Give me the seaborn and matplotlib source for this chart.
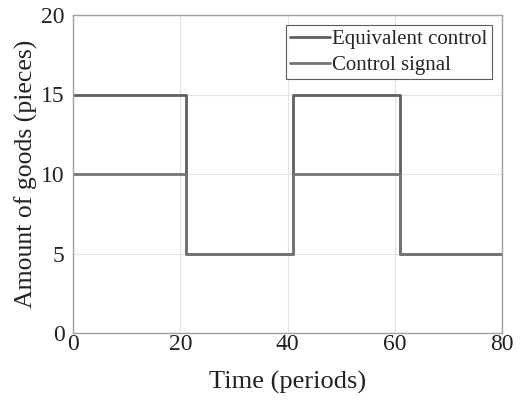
import matplotlib
matplotlib.use("Agg")
import matplotlib.pyplot as plt
import seaborn as sns
import pandas as pd

time = [0, 21, 41, 61, 80]
equivalent_control = [15, 5, 15, 5, 5]
control_signal = [10, 5, 10, 5, 5]
series_names = ["Equivalent control", "Control signal"]
xticks = [0, 20, 40, 60, 80]
yticks = [0, 5, 10, 15, 20]

sns.set_theme(style="whitegrid")
plt.rcParams['font.family'] = ['Liberation Serif', 'DejaVu Serif']
plt.rcParams['mathtext.fontset'] = 'stix'

df = pd.concat([
    pd.DataFrame({"t": time, "v": equivalent_control, "s": series_names[0]}),
    pd.DataFrame({"t": time, "v": control_signal, "s": series_names[1]}),
])

fig = plt.figure(figsize=(5.2, 4.01), dpi=100)
ax = fig.add_axes([73/520, 1-333/401, 429/520, 318/401])
palette = {series_names[0]: "#5f5f5f", series_names[1]: "#747474"}
sns.lineplot(data=df, x="t", y="v", hue="s", palette=palette, ax=ax,
             drawstyle="steps-post", linewidth=2.0, estimator=None)

ax.set_xlim(0, 80)
ax.set_ylim(0, 20)
ax.set_xticks(xticks)
ax.set_yticks(yticks)
ax.tick_params(labelsize=17, direction="in", length=3, color="#999999", labelcolor="#222222")
ax.tick_params(axis="x", pad=1)
ax.tick_params(axis="y", pad=6)
ax.set_xlabel("Time (periods)", fontsize=19, color="#222222", labelpad=11)
ax.set_ylabel("Amount of goods (pieces)", fontsize=18.5, color="#222222", labelpad=2)
ax.grid(True, color="#e3e3e3", linewidth=0.8)
for sp in ax.spines.values():
    sp.set_visible(True)
    sp.set_color("#a0a0a0")
    sp.set_linewidth(1.0)

leg = ax.legend(loc="upper right", fontsize=15, frameon=True, fancybox=False,
                borderpad=0.2, handlelength=1.9, handletextpad=0.1,
                labelspacing=0.3, borderaxespad=0.5)
leg.get_frame().set_edgecolor("#333333")
leg.get_frame().set_linewidth(0.8)
leg.set_title(None)

fig.savefig("out.png", dpi=100)
